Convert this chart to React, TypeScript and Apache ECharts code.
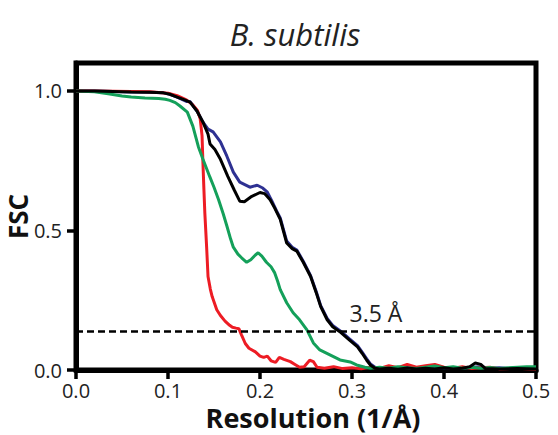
import React, { useEffect, useRef } from "react";
import * as echarts from "echarts";

const titleText = "B. subtilis";
const xName = "Resolution (1/Å)";
const yName = "FSC";
const thresholdValue = 0.143;
const thresholdLabel = "3.5 Å";
const thresholdLabelX = 0.326;
const xTicks = [0, 0.1, 0.2, 0.3, 0.4, 0.5];
const yTicks = [0, 0.5, 1.0];

const blueData: number[][] = [
  [0, 1.0], [0.02, 1.0], [0.04, 0.998], [0.06, 0.996], [0.08, 0.995], [0.095, 0.993],
  [0.102, 0.988], [0.11, 0.978], [0.12, 0.962], [0.124, 0.962], [0.1315, 0.928], [0.138, 0.888],
  [0.1435, 0.863], [0.149, 0.853], [0.157, 0.817], [0.164, 0.766], [0.171, 0.709],
  [0.178, 0.673], [0.189, 0.655], [0.197, 0.662], [0.203, 0.652], [0.208, 0.637],
  [0.213, 0.605], [0.218, 0.57], [0.222, 0.545], [0.229, 0.462], [0.235, 0.44],
  [0.24, 0.43], [0.247, 0.39], [0.255, 0.338], [0.261, 0.282], [0.266, 0.23],
  [0.273, 0.185], [0.279, 0.16], [0.288, 0.138], [0.297, 0.112], [0.306, 0.087],
  [0.311, 0.064], [0.316, 0.04], [0.32, 0.022], [0.325, 0.01], [0.33, 0.008],
  [0.34, 0.01], [0.35, 0.006], [0.36, 0.009], [0.37, 0.005], [0.38, 0.008],
  [0.39, 0.006], [0.4, 0.009], [0.41, 0.005], [0.42, 0.007], [0.43, 0.01],
  [0.44, 0.012], [0.45, 0.006], [0.46, 0.008], [0.47, 0.005], [0.48, 0.007], [0.5, 0.005],
];

const redData: number[][] = [
  [0, 1.0], [0.04, 0.999], [0.08, 0.997], [0.1, 0.992], [0.11, 0.983], [0.12, 0.968],
  [0.127, 0.95], [0.132, 0.93], [0.135, 0.9], [0.137, 0.84], [0.138, 0.74], [0.139, 0.65],
  [0.14, 0.565], [0.142, 0.44], [0.1435, 0.335], [0.146, 0.29], [0.148, 0.263],
  [0.153, 0.216], [0.157, 0.195], [0.162, 0.175], [0.167, 0.16], [0.17, 0.153],
  [0.174, 0.15], [0.177, 0.148], [0.18, 0.125], [0.184, 0.095], [0.188, 0.078],
  [0.195, 0.065], [0.2, 0.05], [0.204, 0.045], [0.208, 0.05], [0.212, 0.033],
  [0.217, 0.027], [0.221, 0.045], [0.226, 0.038], [0.233, 0.03], [0.238, 0.02],
  [0.243, 0.01], [0.248, 0.012], [0.254, 0.035], [0.258, 0.03], [0.262, 0.01],
  [0.27, 0.006], [0.28, 0.012], [0.29, 0.005], [0.3, 0.008], [0.31, 0.004],
  [0.32, 0.01], [0.33, 0.006], [0.34, 0.015], [0.35, 0.008], [0.36, 0.02],
  [0.37, 0.01], [0.38, 0.015], [0.39, 0.02], [0.4, 0.01], [0.41, 0.006],
  [0.42, 0.012], [0.43, 0.005], [0.44, 0.008], [0.45, 0.01], [0.46, 0.004],
  [0.48, 0.006], [0.5, 0.003],
];

const greenData: number[][] = [
  [0, 1.0], [0.02, 0.997], [0.035, 0.99], [0.05, 0.982], [0.06, 0.978], [0.075, 0.975],
  [0.09, 0.973], [0.097, 0.97], [0.102, 0.966], [0.108, 0.958], [0.113, 0.946],
  [0.121, 0.924], [0.127, 0.874], [0.133, 0.8], [0.138, 0.755], [0.1457, 0.69],
  [0.15, 0.655], [0.155, 0.61], [0.16, 0.56], [0.164, 0.516], [0.168, 0.47],
  [0.171, 0.44], [0.176, 0.415], [0.18, 0.402], [0.1855, 0.386], [0.19, 0.395],
  [0.195, 0.412], [0.198, 0.42], [0.202, 0.408], [0.207, 0.386], [0.212, 0.37],
  [0.216, 0.348], [0.219, 0.32], [0.222, 0.288], [0.229, 0.241], [0.236, 0.205],
  [0.243, 0.18], [0.251, 0.144], [0.258, 0.097], [0.265, 0.072], [0.276, 0.054],
  [0.287, 0.036], [0.298, 0.029], [0.305, 0.018], [0.314, 0.01], [0.32, 0.006],
  [0.33, 0.01], [0.34, 0.006], [0.35, 0.012], [0.36, 0.008], [0.37, 0.005],
  [0.38, 0.01], [0.39, 0.014], [0.4, 0.008], [0.41, 0.012], [0.42, 0.006],
  [0.43, 0.01], [0.44, 0.006], [0.45, 0.009], [0.46, 0.005], [0.47, 0.008],
  [0.48, 0.01], [0.49, 0.012], [0.5, 0.012],
];

const blackData: number[][] = [
  [0, 1.0], [0.02, 1.0], [0.04, 0.998], [0.06, 0.996], [0.08, 0.995], [0.095, 0.993],
  [0.102, 0.988], [0.11, 0.978], [0.118, 0.968], [0.124, 0.96], [0.1315, 0.928],
  [0.138, 0.888], [0.1435, 0.845], [0.1457, 0.81], [0.151, 0.79], [0.157, 0.755],
  [0.165, 0.694], [0.172, 0.645], [0.178, 0.605], [0.183, 0.603], [0.19, 0.62],
  [0.2, 0.636], [0.205, 0.632], [0.211, 0.61], [0.216, 0.58], [0.222, 0.54],
  [0.229, 0.455], [0.235, 0.435], [0.24, 0.426], [0.247, 0.386], [0.255, 0.335],
  [0.261, 0.278], [0.266, 0.227], [0.273, 0.18], [0.279, 0.155], [0.288, 0.134],
  [0.297, 0.108], [0.306, 0.083], [0.311, 0.06], [0.316, 0.035], [0.32, 0.018],
  [0.325, 0.006], [0.33, 0.004], [0.34, 0.006], [0.35, 0.003], [0.36, 0.007],
  [0.37, 0.004], [0.38, 0.006], [0.39, 0.004], [0.4, 0.008], [0.41, 0.004],
  [0.42, 0.006], [0.428, 0.012], [0.434, 0.025], [0.44, 0.02], [0.445, 0.005],
  [0.46, 0.004], [0.48, 0.005], [0.5, 0.004],
];

const FONT = "'Open Sans', 'Noto Sans', sans-serif";

export default function App() {
  const ref = useRef<HTMLDivElement>(null);
  useEffect(() => {
    if (!ref.current) return;
    const chart = echarts.init(ref.current, undefined, { renderer: "svg" });
    const lineSeries = (name: string, data: number[][], color: string) => ({
      name,
      type: "line",
      data,
      showSymbol: false,
      symbol: "none",
      smooth: false,
      lineStyle: { color, width: 3 },
      itemStyle: { color },
      z: 2,
    });
    chart.setOption({
      animation: false,
      textStyle: { fontFamily: FONT },
      grid: {
        left: 76,
        right: 22,
        top: 63,
        bottom: 65,
        containLabel: false,
        outerBoundsMode: "none",
        show: true,
        borderColor: "#000",
        borderWidth: 5,
        backgroundColor: "rgba(0,0,0,0)",
      },
      graphic: [
        {
          type: "text",
          x: 295,
          y: 34,
          style: {
            text: titleText,
            fontFamily: FONT,
            fontStyle: "italic",
            fontSize: 31,
            fill: "#222",
            textAlign: "center",
            textVerticalAlign: "middle",
          },
        },
      ],
      xAxis: {
        type: "value",
        min: 0,
        max: 0.5,
        interval: 0.1,
        name: xName,
        nameLocation: "middle",
        nameGap: 34,
        nameMoveOverlap: false,
        nameTextStyle: {
          fontFamily: FONT,
          fontWeight: "bold",
          fontSize: 27,
          lineHeight: 26,
          color: "#111",
          padding: [0, 0, 0, 14],
        },
        axisLine: { show: true, onZero: false, lineStyle: { color: "#000", width: 5 } },
        axisTick: { show: true, inside: false, length: 9, lineStyle: { color: "#000", width: 3.5 } },
        axisLabel: {
          show: true,
          margin: 10,
          fontFamily: FONT,
          fontSize: 20,
          lineHeight: 20,
          color: "#222",
          formatter: (v: number) => v.toFixed(1),
          customValues: xTicks,
        },
        splitLine: { show: false },
      },
      yAxis: {
        type: "value",
        min: 0,
        max: 1.1,
        interval: 0.5,
        name: yName,
        nameLocation: "middle",
        nameRotate: 90,
        nameGap: 45,
        nameMoveOverlap: false,
        nameTextStyle: {
          fontFamily: FONT,
          fontWeight: "bold",
          fontSize: 26,
          lineHeight: 26,
          color: "#111",
        },
        axisLine: { show: true, onZero: false, lineStyle: { color: "#000", width: 5 } },
        axisTick: {
          show: true,
          inside: false,
          length: 9,
          lineStyle: { color: "#000", width: 3.5 },
          customValues: yTicks,
        },
        axisLabel: {
          show: true,
          margin: 14,
          fontFamily: FONT,
          fontSize: 20,
          lineHeight: 20,
          color: "#222",
          formatter: (v: number) => v.toFixed(1),
          customValues: yTicks,
        },
        splitLine: { show: false },
      },
      series: [
        lineSeries("blue", blueData, "#2e3192"),
        lineSeries("red", redData, "#ed1c24"),
        lineSeries("green", greenData, "#14a05a"),
        {
          ...lineSeries("black", blackData, "#000000"),
          markLine: {
            silent: true,
            symbol: ["none", "none"],
            lineStyle: { color: "#000", width: 2.5, type: [7, 4] },
            label: { show: false },
            data: [{ yAxis: thresholdValue }],
          },
          markPoint: {
            silent: true,
            symbol: "circle",
            symbolSize: 0,
            label: {
              show: true,
              position: "top",
              distance: 6,
              formatter: thresholdLabel,
              fontFamily: FONT,
              fontSize: 23,
              color: "#222",
            },
            data: [{ coord: [thresholdLabelX, thresholdValue] }],
          },
        },
      ],
    });
    return () => chart.dispose();
  }, []);
  return (
    <div
      ref={ref}
      style={{ position: "fixed", left: 0, top: 0, width: 558, height: 435, background: "#fff" }}
    />
  );
}
